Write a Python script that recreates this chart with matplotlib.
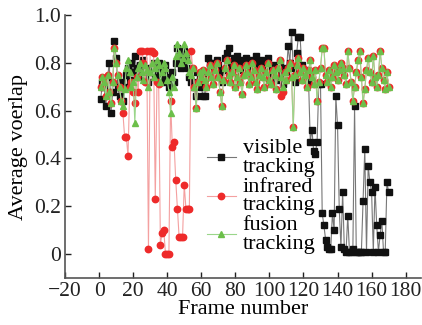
import numpy as np
import matplotlib
matplotlib.use("Agg")
import matplotlib.pyplot as plt

plt.rcParams['font.family'] = ['Liberation Serif', 'DejaVu Serif']

# frame index 1..170
frames = np.arange(1, 171)

visible = [
    0.65, 0.72, 0.70, 0.62, 0.74, 0.80, 0.59, 0.68, 0.89, 0.82,
    0.70, 0.66, 0.72, 0.64, 0.70, 0.75, 0.78, 0.73, 0.80, 0.76,
    0.83, 0.78, 0.74, 0.79, 0.76, 0.81, 0.74, 0.77, 0.72, 0.78,
    0.76, 0.80, 0.74, 0.78, 0.80, 0.75, 0.72, 0.77, 0.79, 0.74,
    0.70, 0.73, 0.76, 0.72, 0.80, 0.86, 0.83, 0.78, 0.80, 0.85,
    0.82, 0.78, 0.74, 0.72, 0.76, 0.70, 0.66, 0.72, 0.74, 0.70,
    0.66, 0.66, 0.74, 0.82, 0.80, 0.77, 0.80, 0.78, 0.81, 0.79,
    0.76, 0.72, 0.77, 0.82, 0.84, 0.86, 0.80, 0.78, 0.82, 0.79,
    0.83, 0.80, 0.77, 0.81, 0.78, 0.82, 0.80, 0.76, 0.79, 0.81,
    0.78, 0.83, 0.80, 0.77, 0.81, 0.79, 0.76, 0.80, 0.82, 0.78,
    0.75, 0.79, 0.77, 0.73, 0.76, 0.80, 0.74, 0.71, 0.78, 0.76,
    0.87, 0.80, 0.93, 0.78, 0.72, 0.84, 0.91, 0.91, 0.79, 0.75,
    0.77, 0.74, 0.72, 0.47, 0.52, 0.43, 0.42, 0.47, 0.71, 0.71,
    0.17, 0.12, 0.06, 0.03, 0.02, 0.02, 0.17, 0.10, 0.66, 0.54,
    0.19, 0.03, 0.26, 0.02, 0.01, 0.16, 0.01, 0.01, 0.02, 0.62,
    0.01, 0.01, 0.01, 0.01, 0.22, 0.44, 0.01, 0.37, 0.30, 0.26,
    0.01, 0.28, 0.12, 0.01, 0.08, 0.14, 0.01, 0.01, 0.30, 0.26,
]

infrared = [
    0.70, 0.74, 0.72, 0.66, 0.75, 0.68, 0.63, 0.72, 0.86, 0.80,
    0.75, 0.70, 0.64, 0.59, 0.49, 0.49, 0.41, 0.70, 0.72, 0.68,
    0.63, 0.74, 0.68, 0.85, 0.85, 0.80, 0.72, 0.85, 0.02, 0.85,
    0.85, 0.84, 0.23, 0.72, 0.71, 0.04, 0.09, 0.10, 0.00, 0.00,
    0.00, 0.64, 0.45, 0.47, 0.31, 0.19, 0.07, 0.07, 0.07, 0.29,
    0.19, 0.19, 0.19, 0.85, 0.78, 0.70, 0.61, 0.72, 0.76, 0.74,
    0.77, 0.73, 0.70, 0.76, 0.79, 0.74, 0.71, 0.77, 0.80, 0.74,
    0.68, 0.62, 0.73, 0.78, 0.81, 0.75, 0.72, 0.76, 0.79, 0.70,
    0.74, 0.78, 0.72, 0.67, 0.75, 0.79, 0.76, 0.71, 0.74, 0.80,
    0.77, 0.72, 0.69, 0.75, 0.78, 0.74, 0.70, 0.76, 0.80, 0.73,
    0.71, 0.77, 0.75, 0.69, 0.78, 0.81, 0.66, 0.68, 0.76, 0.73,
    0.78, 0.80, 0.74, 0.53, 0.75, 0.79, 0.82, 0.76, 0.73, 0.78,
    0.75, 0.70, 0.77, 0.81, 0.74, 0.71, 0.77, 0.64, 0.72, 0.78,
    0.86, 0.86, 0.75, 0.72, 0.77, 0.70, 0.74, 0.79, 0.76, 0.73,
    0.77, 0.80, 0.78, 0.75, 0.71, 0.85, 0.78, 0.72, 0.64, 0.70,
    0.76, 0.81, 0.85, 0.74, 0.63, 0.69, 0.77, 0.82, 0.76, 0.72,
    0.83, 0.74, 0.70, 0.75, 0.85, 0.78, 0.73, 0.69, 0.76, 0.70,
]

fusion = [
    0.70, 0.74, 0.72, 0.66, 0.75, 0.68, 0.63, 0.72, 0.86, 0.80,
    0.75, 0.70, 0.64, 0.62, 0.69, 0.78, 0.81, 0.76, 0.70, 0.72,
    0.55, 0.74, 0.78, 0.80, 0.76, 0.73, 0.79, 0.77, 0.70, 0.76,
    0.80, 0.74, 0.78, 0.81, 0.79, 0.72, 0.76, 0.80, 0.78, 0.73,
    0.68, 0.59, 0.74, 0.70, 0.83, 0.88, 0.84, 0.80, 0.82, 0.88,
    0.84, 0.81, 0.76, 0.75, 0.78, 0.70, 0.61, 0.72, 0.76, 0.74,
    0.77, 0.73, 0.70, 0.76, 0.79, 0.74, 0.71, 0.77, 0.80, 0.74,
    0.68, 0.62, 0.73, 0.78, 0.81, 0.75, 0.72, 0.76, 0.79, 0.70,
    0.74, 0.78, 0.72, 0.67, 0.75, 0.79, 0.76, 0.71, 0.74, 0.80,
    0.77, 0.72, 0.69, 0.75, 0.78, 0.74, 0.70, 0.76, 0.80, 0.73,
    0.71, 0.77, 0.75, 0.69, 0.78, 0.81, 0.74, 0.70, 0.76, 0.73,
    0.78, 0.80, 0.74, 0.53, 0.75, 0.79, 0.82, 0.76, 0.73, 0.78,
    0.75, 0.70, 0.77, 0.81, 0.74, 0.71, 0.77, 0.64, 0.72, 0.78,
    0.86, 0.86, 0.75, 0.72, 0.77, 0.70, 0.74, 0.79, 0.76, 0.73,
    0.77, 0.80, 0.78, 0.75, 0.71, 0.85, 0.78, 0.72, 0.64, 0.70,
    0.76, 0.81, 0.85, 0.74, 0.63, 0.69, 0.77, 0.82, 0.76, 0.72,
    0.83, 0.74, 0.70, 0.75, 0.85, 0.78, 0.73, 0.69, 0.76, 0.70,
]

x_ticks = [-20, 0, 20, 40, 60, 80, 100, 120, 140, 160, 180]
x_labels = ["\u221220", "0", "20", "40", "60", "80", "100", "120", "140", "160", "180"]
y_ticks = [0, 0.2, 0.4, 0.6, 0.8, 1.0]
y_labels = ["0", "0.2", "0.4", "0.6", "0.8", "1.0"]

fig = plt.figure(figsize=(4.22, 3.25), dpi=100)
ax = fig.add_axes([65/422, 1 - 278/325, 356/422, (278 - 15)/325])

ax.plot(frames, visible, color="#777777", lw=0.8, marker="s", ms=4.0,
        mfc="#111111", mec="#111111", label="visible\ntracking")
ax.plot(frames, infrared, color="#f4a0a0", lw=0.8, marker="o", ms=4.6,
        mfc="#ee2a2a", mec="#ee2a2a", label="infrared\ntracking")
ax.plot(frames, fusion, color="#9ad68a", lw=0.8, marker="^", ms=5.0,
        mfc="#6cbf4a", mec="#6cbf4a", label="fusion\ntracking")

ax.set_xlim(-20, 189)
ax.set_ylim(-0.1, 1.0)
ax.set_xticks(x_ticks)
ax.set_xticklabels(x_labels)
ax.set_yticks(y_ticks)
ax.set_yticklabels(y_labels)
ax.tick_params(direction="in", length=4, width=1, labelsize=15.5, colors="#222222", pad=3)

for s in ["top", "right"]:
    ax.spines[s].set_visible(False)
for s in ["left", "bottom"]:
    ax.spines[s].set_color("#555555")
    ax.spines[s].set_linewidth(1.2)

ax.set_xlabel("Frame number", fontsize=16, labelpad=-1)
ax.set_ylabel("Average voerlap", fontsize=16, labelpad=4)

leg = ax.legend(loc="upper left", bbox_to_anchor=(207/422, 1 - 139/325),
                bbox_transform=fig.transFigure, frameon=False, fontsize=16,
                handlelength=1.3, handletextpad=0.3, labelspacing=0.05,
                borderpad=0, borderaxespad=0)
for t in leg.get_texts():
    t.set_linespacing(0.97)

fig.savefig("out.png", dpi=100)
